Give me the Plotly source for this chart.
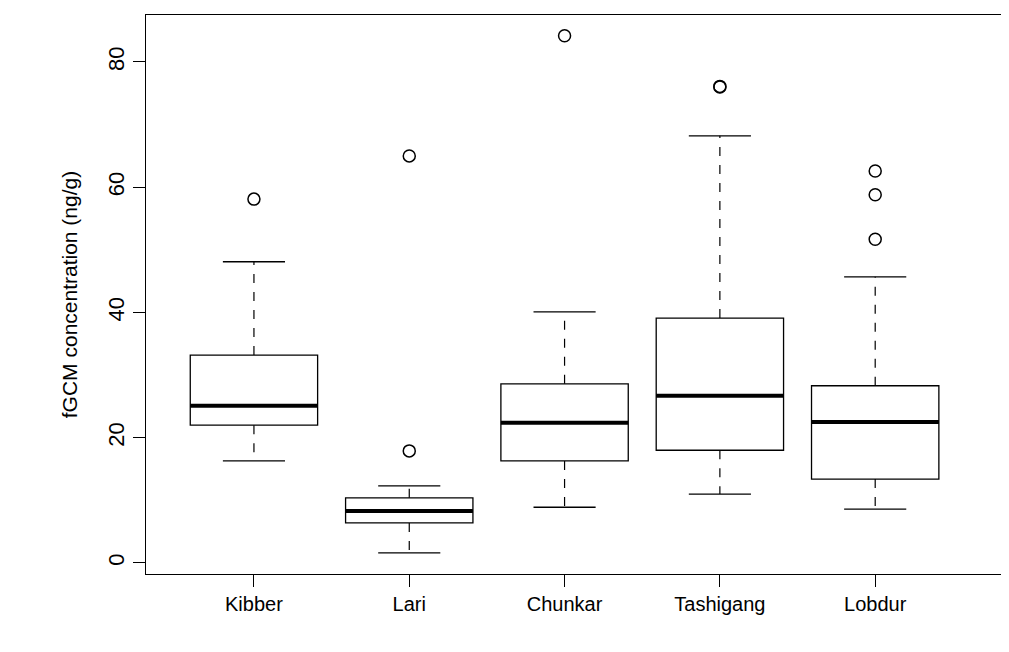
import plotly.graph_objects as go

sites = ["Kibber", "Lari", "Chunkar", "Tashigang", "Lobdur"]
lower = [16.3, 1.6, 8.9, 11.0, 8.6]
q1 = [22.0, 6.4, 16.3, 18.0, 13.4]
median = [25.1, 8.3, 22.4, 26.7, 22.5]
q3 = [33.2, 10.4, 28.6, 39.1, 28.3]
upper = [48.1, 12.3, 40.1, 68.2, 45.7]
outliers = [[58.1], [17.9, 65.0], [84.2], [76.0, 76.1], [51.7, 58.8, 62.6]]

W = 0.82
CAP = 0.2
fig = go.Figure()
xs = list(range(len(sites)))
fig.add_trace(go.Box(x=xs, q1=q1, median=median, q3=q3, lowerfence=q1, upperfence=q3,
                     width=W, fillcolor="white", line=dict(color="black", width=1.3),
                     boxpoints=False, showlegend=False, hoverinfo="skip"))
wx, wy, cx, cy, mx, my, ox, oy = [], [], [], [], [], [], [], []
for i in xs:
    wx += [i, i, None, i, i, None]
    wy += [q3[i], upper[i], None, q1[i], lower[i], None]
    cx += [i - CAP, i + CAP, None, i - CAP, i + CAP, None]
    cy += [upper[i], upper[i], None, lower[i], lower[i], None]
    mx += [i - W / 2, i + W / 2, None]
    my += [median[i], median[i], None]
    ox += [i] * len(outliers[i])
    oy += outliers[i]
fig.add_trace(go.Scatter(x=wx, y=wy, mode="lines", line=dict(color="black", width=1.2, dash="dash"), showlegend=False))
fig.add_trace(go.Scatter(x=cx, y=cy, mode="lines", line=dict(color="black", width=1.3), showlegend=False))
fig.add_trace(go.Scatter(x=mx, y=my, mode="lines", line=dict(color="black", width=4), showlegend=False))
fig.add_trace(go.Scatter(x=ox, y=oy, mode="markers", marker=dict(symbol="circle-open", size=12, color="black", line=dict(width=1.5)), showlegend=False))

fig.update_layout(
    width=1009, height=652, plot_bgcolor="white", paper_bgcolor="white",
    margin=dict(l=138, r=16, t=7, b=86),
    font=dict(family="Liberation Sans, Arial", size=20, color="black"),
    xaxis=dict(range=[-0.695, 4.81], tickvals=xs, ticktext=sites, showgrid=False, zeroline=False,
               showline=True, mirror=True, linecolor="black", linewidth=1.3,
               ticks="outside", ticklen=12, tickcolor="black"),
    yaxis=dict(range=[-1.76, 87.5], tickvals=[0, 20, 40, 60, 80], tickangle=-90, showgrid=False,
               zeroline=False, showline=True, mirror=True, linecolor="black", linewidth=1.3,
               ticks="outside", ticklen=12, tickcolor="black", tickfont=dict(size=22),
               title=dict(text="fGCM concentration (ng/g)", font=dict(size=21), standoff=20)),
)
fig.write_html("out.html")
